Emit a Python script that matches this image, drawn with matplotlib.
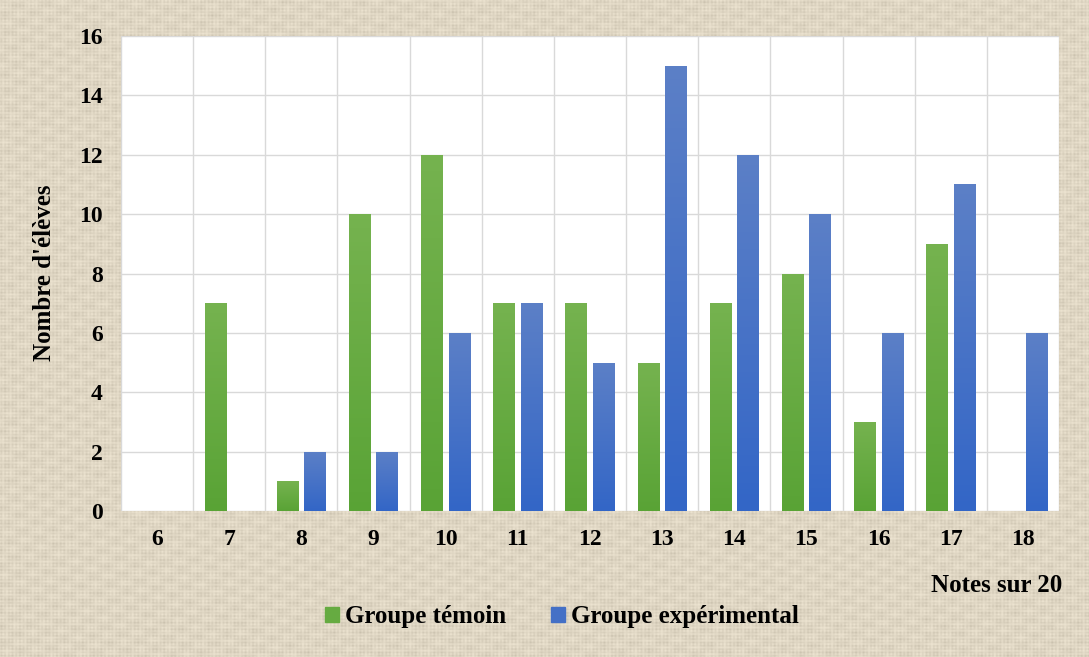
import numpy as np
import matplotlib.pyplot as plt
from matplotlib.patches import Patch

# notes sur 20 et effectifs par groupe
notes = [6, 7, 8, 9, 10, 11, 12, 13, 14, 15, 16, 17, 18]
temoin = [0, 7, 1, 10, 12, 7, 7, 5, 7, 8, 3, 9, 0]
experimental = [0, 0, 2, 2, 6, 7, 5, 15, 12, 10, 6, 11, 6]

plt.rcParams['font.family'] = ['Liberation Serif', 'DejaVu Serif']
plt.rcParams['font.weight'] = 'bold'

W, H = 1089, 657
fig = plt.figure(figsize=(W / 100, H / 100), dpi=100, facecolor='#ddd3bd')

# toile de jute en fond
yy, xx = np.mgrid[0:H, 0:W]
weave = (0.5 + 0.5 * np.sin(xx * 2 * np.pi / 3.7)) * (0.7 + 0.3 * np.sin(yy * 0.9 + xx * 0.013))
weave += (0.5 + 0.5 * np.sin(yy * 2 * np.pi / 3.3)) * (0.7 + 0.3 * np.sin(xx * 0.7 + yy * 0.017))
slow = np.sin(xx * 0.21 + yy * 0.05) * np.sin(yy * 0.37 - xx * 0.03)
base = np.array([232, 223, 204]) / 255.0
tex = base[None, None, :] - 0.05 * weave[..., None] + 0.02 * slow[..., None]
fig.figimage(np.clip(tex, 0, 1), xo=0, yo=0, origin='lower', zorder=-10)

ax = fig.add_axes([121 / W, 1 - 511 / H, (1059 - 121) / W, (511 - 36) / H])
ax.set_facecolor('white')

x = np.arange(len(notes))
bw = 0.30
off = 0.19
b1 = ax.bar(x - off, temoin, bw, color='#66ab41', zorder=3)
b2 = ax.bar(x + off, experimental, bw, color='#4470c6', zorder=3)

# dégradé léger dans chaque barre
def shade(bars, top, bottom):
    grad = np.linspace(0, 1, 64)[:, None, None]
    c = np.array(top)[None, None, :] * (1 - grad) + np.array(bottom)[None, None, :] * grad
    for b in bars:
        h = b.get_height()
        if h <= 0:
            continue
        x0 = b.get_x()
        im = ax.imshow(c, extent=[x0, x0 + b.get_width(), 0, h], aspect='auto',
                       zorder=3.5, origin='upper')
        im.set_clip_path(b)

shade(b1, (0.46, 0.70, 0.31), (0.35, 0.64, 0.21))
shade(b2, (0.36, 0.50, 0.78), (0.20, 0.40, 0.78))

ax.set_xlim(-0.5, len(notes) - 0.5)
ax.set_ylim(0, 16)
ax.set_yticks(range(0, 17, 2))
ax.set_xticks(x)
ax.set_xticklabels([str(n) for n in notes])
ax.set_xticks(np.arange(-0.5, len(notes), 1), minor=True)
ax.grid(axis='y', which='major', color='#d9d9d9', lw=1, zorder=0)
ax.grid(axis='x', which='minor', color='#d9d9d9', lw=1, zorder=0)
ax.tick_params(which='both', length=0)
ax.tick_params(axis='y', pad=13, labelsize=17)
ax.tick_params(axis='x', pad=13, labelsize=17)
for s in ax.spines.values():
    s.set_visible(False)

fig.text(45 / W, 1 - 273 / H, "Nombre d'élèves", rotation=90, ha='center', va='center',
         fontsize=18, fontweight='bold')
fig.text(1062 / W, 1 - 585 / H, 'Notes sur 20', ha='right', va='center',
         fontsize=18, fontweight='bold')

handles = [Patch(color='#66ab41', label='Groupe témoin'),
           Patch(color='#4470c6', label='Groupe expérimental')]
fig.legend(handles=handles, loc='center', bbox_to_anchor=(562 / W, 1 - 617 / H), ncol=2,
           frameon=False, fontsize=18, handlelength=0.55, handleheight=0.55,
           handletextpad=0.25, columnspacing=1.8)

fig.savefig('out.png', dpi=100, facecolor=fig.get_facecolor())
